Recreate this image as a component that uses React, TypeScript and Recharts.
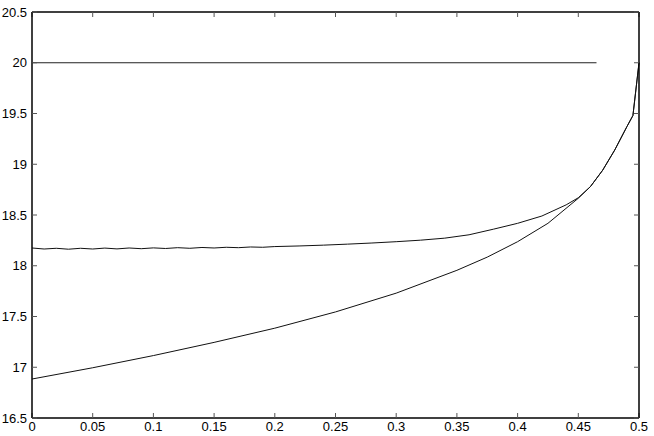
import React from "react";
import { LineChart, Line, XAxis, YAxis } from "recharts";

const xTicks = [0, 0.05, 0.1, 0.15, 0.2, 0.25, 0.3, 0.35, 0.4, 0.45, 0.5];
const yTicks = [16.5, 17, 17.5, 18, 18.5, 19, 19.5, 20, 20.5];

const flatX = [0, 0.465];
const flatY = [20, 20];

const upperX = [0, 0.01, 0.02, 0.03, 0.04, 0.05, 0.06, 0.07, 0.08, 0.09, 0.1, 0.11, 0.12, 0.13, 0.14, 0.15, 0.16, 0.17, 0.18, 0.19, 0.2, 0.22, 0.24, 0.26, 0.28, 0.3, 0.32, 0.34, 0.36, 0.38, 0.4, 0.42, 0.44, 0.45, 0.46, 0.47, 0.48, 0.49, 0.495, 0.5];
const upperY = [18.175, 18.165, 18.172, 18.163, 18.172, 18.165, 18.174, 18.166, 18.175, 18.168, 18.176, 18.17, 18.178, 18.172, 18.18, 18.175, 18.182, 18.178, 18.185, 18.182, 18.189, 18.195, 18.203, 18.213, 18.224, 18.237, 18.252, 18.272, 18.305, 18.36, 18.418, 18.49, 18.6, 18.67, 18.78, 18.94, 19.14, 19.37, 19.48, 20.0];

const lowerX = [0, 0.05, 0.1, 0.15, 0.2, 0.25, 0.3, 0.35, 0.375, 0.4, 0.425, 0.45, 0.46, 0.47, 0.48, 0.49, 0.495, 0.5];
const lowerY = [16.884, 16.995, 17.115, 17.245, 17.385, 17.545, 17.73, 17.955, 18.085, 18.237, 18.418, 18.665, 18.78, 18.94, 19.14, 19.37, 19.48, 20.0];

const zip = (xs: number[], ys: number[]) => xs.map((x, i) => ({ x, y: ys[i] }));
const flatData = zip(flatX, flatY);
const upperData = zip(upperX, upperY);
const lowerData = zip(lowerX, lowerY);

const FONT = "'Liberation Sans', Arial, Helvetica, sans-serif";
const tickText = { fill: "#000", fontSize: 13, fontFamily: FONT };
const tickLineStyle = { stroke: "#555", strokeWidth: 1 };
const axisLineStyle = { stroke: "#000", strokeWidth: 1.5 };
const noLabel = (props: any) => <g key={`n-${props.index}`} />;

export default function App() {
  return (
    <div style={{ position: "absolute", left: 0, top: 0, width: 654, height: 436, background: "#fff" }}>
      <LineChart width={654} height={436} margin={{ top: 11, right: 14, left: 0, bottom: 0 }}>
        <XAxis
          xAxisId="b"
          dataKey="x"
          type="number"
          domain={[0, 0.5]}
          ticks={xTicks}
          interval={0}
          allowDuplicatedCategory={false}
          orientation="bottom"
          height={18}
          tickSize={-5}
          tickMargin={9}
          tickLine={tickLineStyle}
          axisLine={axisLineStyle}
          tick={tickText}
        />
        <XAxis
          xAxisId="t"
          dataKey="x"
          type="number"
          domain={[0, 0.5]}
          ticks={xTicks}
          interval={0}
          allowDuplicatedCategory={false}
          orientation="top"
          height={1}
          tickSize={-5}
          tickMargin={0}
          tickLine={tickLineStyle}
          axisLine={axisLineStyle}
          tick={noLabel}
        />
        <YAxis
          yAxisId="l"
          type="number"
          domain={[16.5, 20.5]}
          ticks={yTicks}
          interval={0}
          orientation="left"
          width={32}
          tickSize={-5}
          tickMargin={10}
          tickLine={tickLineStyle}
          axisLine={axisLineStyle}
          tick={tickText}
        />
        <YAxis
          yAxisId="r"
          type="number"
          domain={[16.5, 20.5]}
          ticks={yTicks}
          interval={0}
          orientation="right"
          width={1}
          tickSize={-5}
          tickMargin={0}
          tickLine={tickLineStyle}
          axisLine={axisLineStyle}
          tick={noLabel}
        />
        <Line xAxisId="b" yAxisId="l" data={flatData} dataKey="y" type="linear" stroke="#222" strokeWidth={1} dot={false} activeDot={false} isAnimationActive={false} />
        <Line xAxisId="t" yAxisId="l" data={upperData} dataKey="y" type="linear" stroke="#111" strokeWidth={1} dot={false} activeDot={false} isAnimationActive={false} />
        <Line xAxisId="b" yAxisId="r" data={lowerData} dataKey="y" type="linear" stroke="#111" strokeWidth={1} dot={false} activeDot={false} isAnimationActive={false} />
      </LineChart>
    </div>
  );
}
